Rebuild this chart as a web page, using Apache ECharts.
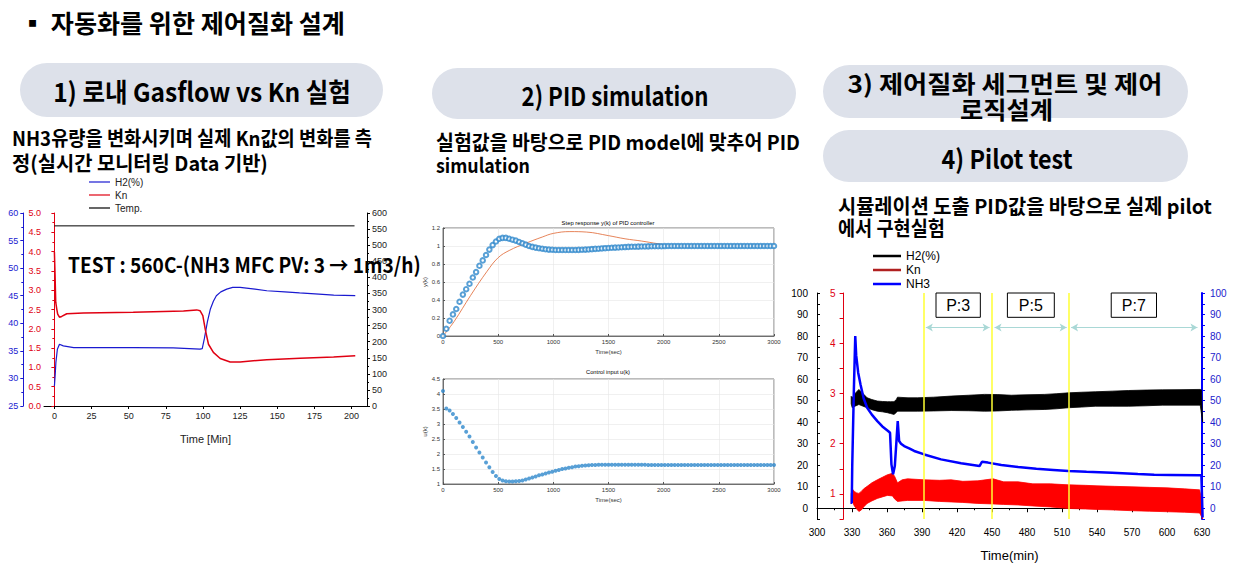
<!DOCTYPE html>
<html>
<head>
<meta charset="utf-8">
<script src="https://cdn.jsdelivr.net/npm/echarts@6/dist/echarts.min.js"></script>
<style>html,body{margin:0;padding:0;background:#fff}#c{width:1243px;height:572px}</style>
</head>
<body>
<div id="c"></div>
<script>
// ---------- 1) Gasflow vs Kn (left chart) ----------
const gasTimeTicks = [0, 25, 50, 75, 100, 125, 150, 175, 200];
const gasH2 = [[0,28.6],[0.5,30.5],[1,32.9],[2,35.3],[3.4,36.2],[6,35.9],[13,35.6],[30,35.6],[53,35.6],[80,35.55],[98,35.3],[99.5,35.4],[101,37.3],[103,40.3],[105,42.6],[107,44],[109,45],[112,45.7],[116,46.2],[120,46.5],[125,46.5],[135,46.2],[143,45.9],[155,45.7],[165,45.5],[178,45.3],[188,45.1],[202.5,45.0]];
const gasKn = [[0,3.99],[0.45,3.38],[0.9,2.69],[1.6,2.51],[2.2,2.38],[3.4,2.30],[4.9,2.32],[8.3,2.39],[19.5,2.41],[53,2.43],[86.9,2.46],[95.8,2.49],[98,2.47],[99.9,2.34],[101.5,1.99],[103.7,1.60],[107,1.39],[111.6,1.23],[118.3,1.14],[125,1.14],[143,1.20],[165.4,1.24],[187.9,1.27],[202.5,1.30]];
const gasTemp = [[0,560],[202,560]];

// ---------- 2) PID simulation (middle charts), sampled every 30 s ----------
const simStep = 30;
const stepY = [0.00,0.08,0.17,0.24,0.30,0.38,0.46,0.52,0.58,0.65,
  0.71,0.78,0.84,0.90,0.96,1.01,1.05,1.08,1.09,1.09,
  1.08,1.07,1.06,1.045,1.03,1.015,1.00,0.99,0.982,0.975,
  0.969,0.964,0.96,0.958,0.956,0.955,0.955,0.955,0.955,0.955,
  0.956,0.957,0.958,0.96,0.962,0.965,0.968,0.97,0.973,0.976,
  0.978,0.98,0.982,0.984,0.986,0.988,0.99,0.991,0.992,0.993,
  0.994,0.995,0.996,0.997,0.997,0.998,0.998,0.999,1,1,
  1,1,1,1,1,1,1,1,1,1,
  1,1,1,1,1,1,1,1,1,1,
  1,1,1,1,1,1,1,1,1,1,1];
const stepRef = [[0,0],[100,0.16],[250,0.45],[400,0.72],[500,0.87],[600,0.95],[750,1.03],[900,1.10],[1000,1.14],[1150,1.16],[1300,1.155],[1500,1.115],[1650,1.08],[1800,1.055],[1950,1.025],[2100,1.0],[2400,1.0],[3000,1.0]];
const ctrlU = [4.10,3.52,3.45,3.33,3.20,3.05,2.90,2.74,2.58,2.40,
  2.22,2.05,1.88,1.72,1.56,1.40,1.27,1.17,1.12,1.09,
  1.08,1.08,1.09,1.10,1.12,1.15,1.18,1.22,1.25,1.29,
  1.32,1.35,1.38,1.41,1.44,1.47,1.50,1.52,1.54,1.56,
  1.58,1.595,1.61,1.62,1.625,1.63,1.635,1.64,1.64,1.64,
  1.64,1.64,1.64,1.64,1.64,1.64,1.64,1.64,1.64,1.64,
  1.64,1.64,1.635,1.635,1.635,1.63,1.63,1.63,1.63,1.63,
  1.63,1.63,1.63,1.63,1.63,1.63,1.63,1.63,1.63,1.63,
  1.63,1.63,1.63,1.63,1.63,1.63,1.63,1.63,1.63,1.63,
  1.63,1.63,1.63,1.63,1.63,1.63,1.63,1.63,1.63,1.63,1.63];

// ---------- 4) Pilot test (right chart) ----------
const pilotLeftLabels = [0,10,20,30,40,50,60,70,80,90,100];
const pilotKnLabels = [1,2,3,4,5];
const pilotH2Time = [329.3,330.2,333,335.9,339,343,347,351.7,356,360.3,363,366,368,369,372,378,386,400,415,430,443.6,455,466.6,480,495.3,505,515.5,527,538.5,553,567.2,582,596,612,628.5,629.5,630.5];
const pilotH2Lo  = [48.5,46.7,47.5,48.2,47.5,46.7,45.8,45.1,44.8,44.4,44.0,43.6,44.5,45.1,45.1,45.1,45.1,45.2,45.4,45.3,45.1,45.2,45.5,45.7,45.9,46.2,46.7,47.0,47.4,47.4,47.4,47.6,47.9,47.9,47.9,44.0,40.0];
const pilotH2Hi  = [52.0,51.3,53.5,55.2,53.5,51.3,50.5,49.8,49.6,49.5,49.5,49.5,50.5,51.6,51.5,51.3,51.3,51.6,52.1,52.5,52.9,52.8,52.5,52.7,52.9,53.2,53.6,53.9,54.1,54.4,54.7,54.9,55.0,55.1,55.2,55.0,41.0];
const pilotKnTime = [329.3,330.2,332,334,335.9,338,340,343,347,351.7,356,360.3,364.7,366.5,369,373,377.6,391.9,405,414.9,425,437.9,450.9,460,472.4,485,500,515.5,530,540,555,570,585,600,615,628,629.5,630.5];
const pilotKnLo = [0.80,0.85,0.76,0.70,0.65,0.68,0.74,0.81,0.86,0.91,0.94,0.97,0.96,0.90,0.85,0.86,0.87,0.87,0.85,0.84,0.83,0.81,0.80,0.79,0.78,0.76,0.74,0.71,0.70,0.69,0.68,0.665,0.655,0.645,0.635,0.62,0.55,0.50];
const pilotKnHi = [1.00,1.10,1.05,1.02,1.01,1.05,1.10,1.15,1.22,1.28,1.33,1.38,1.41,1.35,1.22,1.28,1.30,1.28,1.27,1.28,1.25,1.26,1.30,1.24,1.24,1.20,1.20,1.18,1.17,1.16,1.15,1.14,1.13,1.12,1.10,1.08,0.90,0.50];
const pilotNH3 = [[328.8,2.5],[329.8,2.5],[330.2,19.5],[331.6,55],[332.8,80],[333.6,71],[335.3,63],[337.3,57.5],[340,51],[343,46.7],[347,43.5],[351.7,40.5],[356,38],[360.9,35.9],[362.6,35.1],[363.8,20.4],[365.2,15.8],[366.7,19.6],[368.1,31.2],[369.2,40.5],[370.4,31.2],[372,30],[374.7,28.9],[379,27.8],[383.3,26.6],[391.9,25],[406.3,22.7],[423.5,20.9],[439.3,19.6],[441.4,21.6],[446.5,21.2],[458,20.1],[472.4,19.2],[488,18.3],[502.6,17.8],[515.5,17.3],[531,16.9],[552.9,16.5],[575,15.9],[589,15.6],[603,15.5],[627.6,15.3],[629.5,15.3],[630.5,-4.3]];
const pilotPhaseLines = [391.4, 450, 516];
const pilotPhaseBoxes = [["P:3",402,440],["P:5",463.2,503.4],["P:7",552.2,591]];
const pilotPhaseArrows = [[393.3,447.9],[452.2,514],[517.8,626.1]];

// ---------- texts ----------
const KR = "'Noto Sans CJK KR'";
const LAT = "'Liberation Sans', Arial, sans-serif";
const mctx = document.createElement('canvas').getContext('2d');
function txt(text, x, y, size, target, align, family, weight) {
  mctx.font = weight + ' ' + size + 'px ' + family;
  const w = mctx.measureText(text).width;
  const sx = w > 0 ? target / w : 1;
  return {type:'text', x:x, y:y, scaleX:sx, z:100,
    style:{text:text, fontSize:size, fontFamily:family, fontWeight:weight, fill:'#000', align:align, verticalAlign:'middle'}};
}
function pill(x, y, w, h) {
  return {type:'rect', z:90, shape:{x:x, y:y, width:w, height:h, r:h/2}, style:{fill:'#dde1ea'}};
}
const graphics = [
  txt('▪ 자동화를 위한 제어질화 설계', 20, 22, 25, 325, 'left', KR, 'bold'),
  pill(20,63,363,54), pill(432,68,364,51), pill(823,65,365,53), pill(823,130,365,52),
  txt('1) 로내 Gasflow vs Kn 실험', 202, 91, 26, 298, 'center', KR, 'bold'),
  txt('2) PID simulation', 615, 95, 26, 187, 'center', KR, 'bold'),
  txt('3) 제어질화 세그먼트 및 제어', 1005, 83, 24, 315, 'center', KR, 'bold'),
  txt('로직설계', 1006.5, 108, 24, 93, 'center', KR, 'bold'),
  txt('4) Pilot test', 1007, 157, 26, 131, 'center', KR, 'bold'),
  txt('NH3유량을 변화시키며 실제 Kn값의 변화를 측', 12, 138, 20, 360, 'left', KR, 'bold'),
  txt('정(실시간 모니터링 Data 기반)', 12, 162, 20, 256, 'left', KR, 'bold'),
  txt('실험값을 바탕으로 PID model에 맞추어 PID', 436, 141, 20, 364, 'left', KR, 'bold'),
  txt('simulation', 436, 164, 20, 94, 'left', KR, 'bold'),
  txt('시뮬레이션 도출 PID값을 바탕으로 실제 pilot', 838, 205, 20, 374, 'left', KR, 'bold'),
  txt('에서 구현실험', 838, 228, 20, 107, 'left', KR, 'bold'),
  txt('TEST : 560C-(NH3 MFC PV: 3 → 1m3/h)', 68, 264, 21, 353, 'left', KR, 'bold'),
  txt('Step response y(k) of PID controller', 608, 223, 6, 93, 'center', LAT, 'normal'),
  txt('Control input u(k)', 608, 372, 6, 44, 'center', LAT, 'normal')
];

// ---------- helpers for axes ----------
function plain(v) { return String(v); }
function simX(grid) {
  return {gridIndex:grid, type:'value', min:0, max:3000, interval:500,
    axisLine:{lineStyle:{color:'#555', width:0.8}}, axisTick:{inside:true, length:2, lineStyle:{color:'#555'}},
    axisLabel:{fontSize:6, color:'#333', margin:3, fontFamily:LAT, formatter:plain},
    splitLine:{show:true, lineStyle:{color:'#e6e6e6', width:0.6}},
    name:'Time(sec)', nameLocation:'middle', nameGap:13, nameTextStyle:{fontSize:6, color:'#333', fontFamily:LAT}};
}
function simY(grid, min, max, interval, name) {
  return {gridIndex:grid, type:'value', min:min, max:max, interval:interval,
    axisLine:{show:true, lineStyle:{color:'#555', width:0.8}}, axisTick:{show:true, inside:true, length:2, lineStyle:{color:'#555'}},
    axisLabel:{fontSize:6, color:'#333', margin:3, fontFamily:LAT, formatter:plain},
    splitLine:{show:true, lineStyle:{color:'#e6e6e6', width:0.6}},
    name:name, nameLocation:'middle', nameGap:13, nameTextStyle:{fontSize:6, color:'#333', fontFamily:LAT}};
}
// noisy signal drawn as its min/max envelope through the axis scales
function bandSeries(name, yIdx, times, lo, hi, color) {
  return {name:name, type:'custom', coordinateSystem:'cartesian2d', xAxisIndex:3, yAxisIndex:yIdx,
    color:color, itemStyle:{color:color}, silent:true,
    data: times.map(function(t,i){ return [t, lo[i], hi[i]]; }),
    encode:{x:0, y:[1,2]},
    renderItem: function(params, api) {
      if (params.dataIndex !== 0) return null;
      const pts = [];
      for (let i = 0; i < times.length; i++) pts.push(api.coord([times[i], lo[i]]));
      for (let i = times.length - 1; i >= 0; i--) pts.push(api.coord([times[i], hi[i]]));
      return {type:'polygon', shape:{points:pts}, style:{fill:color, stroke:color, lineWidth:0.8}};
    }};
}
const RED = '#e00012', BLUE = '#1a1ad0', PBLUE = '#0000ff', SIMBLUE = '#2f88cc';

const option = {
  animation:false,
  backgroundColor:'#fff',
  textStyle:{fontFamily:LAT},
  graphic:graphics,
  grid:[
    {left:44, right:876, top:213, bottom:166},
    {left:443, right:469, top:228, bottom:236, show:true, borderColor:'#555', borderWidth:0.8},
    {left:443, right:469, top:379, bottom:88, show:true, borderColor:'#555', borderWidth:0.8},
    {left:817, right:41, top:293, bottom:53}
  ],
  legend:[
    {data:['H2(%)','Kn','Temp.'], left:89, top:177, orient:'vertical', icon:'rect', itemWidth:21, itemHeight:1.2, itemGap:3, padding:0, selectedMode:false, textStyle:{fontSize:10, color:'#222', fontFamily:LAT}},
    {data:[{name:'H2(%) pilot'},{name:'Kn pilot', itemStyle:{color:'#b02020'}},{name:'NH3'}], formatter:function(n){return n.replace(' pilot','');}, left:873, top:250, orient:'vertical', icon:'rect', itemWidth:28, itemHeight:2.5, itemGap:2, padding:0, selectedMode:false, textStyle:{fontSize:12, color:'#000', fontFamily:LAT}}
  ],
  xAxis:[
    {gridIndex:0, type:'value', min:-7, max:210.4,
      axisLine:{lineStyle:{color:'#000'}}, axisTick:{customValues:gasTimeTicks, length:3, lineStyle:{color:'#000'}},
      axisLabel:{customValues:gasTimeTicks, fontSize:9, color:'#222', margin:5},
      splitLine:{show:false}, name:'Time [Min]', nameLocation:'middle', nameGap:27, nameTextStyle:{fontSize:11, color:'#222'}},
    simX(1), simX(2),
    {gridIndex:3, type:'value', min:300, max:630, interval:30,
      axisLine:{lineStyle:{color:'#000'}}, axisTick:{length:4, lineStyle:{color:'#000'}},
      minorTick:{show:true, splitNumber:2, length:2, lineStyle:{color:'#000'}},
      axisLabel:{fontSize:10, color:'#000', margin:8}, splitLine:{show:false},
      name:'Time(min)', nameLocation:'middle', nameGap:30, nameTextStyle:{fontSize:13, color:'#000'}}
  ],
  yAxis:[
    {gridIndex:0, type:'value', min:0, max:5, interval:0.5, position:'left',
      axisLine:{show:true, lineStyle:{color:RED}}, axisTick:{show:true, length:3, lineStyle:{color:RED}},
      minorTick:{show:true, splitNumber:2, length:2, lineStyle:{color:RED}},
      axisLabel:{fontSize:9, color:RED, margin:3, formatter:function(v){return v.toFixed(1);}}, splitLine:{show:false}},
    {gridIndex:0, type:'value', min:25, max:60, interval:5, position:'left', offset:20.7,
      axisLine:{show:true, lineStyle:{color:BLUE}}, axisTick:{show:true, length:3, lineStyle:{color:BLUE}},
      minorTick:{show:true, splitNumber:2, length:2, lineStyle:{color:BLUE}},
      axisLabel:{fontSize:9, color:BLUE, margin:5}, splitLine:{show:false}},
    {gridIndex:0, type:'value', min:0, max:600, interval:50, position:'right',
      axisLine:{show:true, lineStyle:{color:'#000'}}, axisTick:{show:true, length:3, lineStyle:{color:'#000'}},
      minorTick:{show:true, splitNumber:2, length:2, lineStyle:{color:'#000'}},
      axisLabel:{fontSize:9, color:'#222', margin:5}, splitLine:{show:false}},
    simY(1, 0, 1.2, 0.2, 'y(k)'),
    simY(2, 1, 4.5, 0.5, 'u(k)'),
    {gridIndex:3, type:'value', min:-5, max:100, interval:5, position:'left',
      axisLine:{show:true, lineStyle:{color:'#000'}}, axisTick:{show:true, inside:true, length:3, lineStyle:{color:'#000'}},
      axisLabel:{customValues:pilotLeftLabels, fontSize:10, color:'#000', margin:9}, splitLine:{show:false}},
    {gridIndex:3, type:'value', min:0.5, max:5, interval:0.5, position:'left', offset:-26.6,
      axisLine:{show:true, lineStyle:{color:RED}}, axisTick:{show:true, length:4, lineStyle:{color:RED}},
      axisLabel:{customValues:pilotKnLabels, fontSize:10, color:RED, margin:8}, splitLine:{show:false}},
    {gridIndex:3, type:'value', min:-5, max:100, interval:5, position:'right',
      axisLine:{show:true, lineStyle:{color:PBLUE, width:2}}, axisTick:{show:true, length:3, lineStyle:{color:PBLUE}},
      axisLabel:{customValues:pilotLeftLabels, fontSize:10, color:'#2222cc', margin:8}, splitLine:{show:false}}
  ],
  series:[
    {name:'H2(%)', type:'line', xAxisIndex:0, yAxisIndex:1, data:gasH2, showSymbol:false, color:BLUE, lineStyle:{color:BLUE, width:1.2}},
    {name:'Kn', type:'line', xAxisIndex:0, yAxisIndex:0, data:gasKn, showSymbol:false, color:RED, lineStyle:{color:RED, width:1.5}},
    {name:'Temp.', type:'line', xAxisIndex:0, yAxisIndex:2, data:gasTemp, showSymbol:false, color:'#000', lineStyle:{color:'#000', width:1}},

    {name:'ref', type:'line', xAxisIndex:1, yAxisIndex:3, data:stepRef, smooth:0.4, showSymbol:false, color:'#e06530', lineStyle:{color:'#e06530', width:0.8}, z:1},
    {name:'y(k)', type:'scatter', xAxisIndex:1, yAxisIndex:3, data:stepY.map(function(v,i){return [i*simStep, v];}), symbol:'emptyCircle', symbolSize:4.5, itemStyle:{color:SIMBLUE, borderColor:SIMBLUE, borderWidth:0.9}, z:2},
    {name:'u(k)', type:'scatter', xAxisIndex:2, yAxisIndex:4, data:ctrlU.map(function(v,i){return [i*simStep, v];}), symbol:'circle', symbolSize:4, itemStyle:{color:SIMBLUE}, z:2},

    bandSeries('H2(%) pilot', 5, pilotH2Time, pilotH2Lo, pilotH2Hi, '#000000'),
    bandSeries('Kn pilot', 6, pilotKnTime, pilotKnLo, pilotKnHi, '#ff0000'),
    {name:'NH3', type:'line', xAxisIndex:3, yAxisIndex:7, data:pilotNH3, showSymbol:false, clip:false, color:PBLUE, lineStyle:{color:PBLUE, width:2.5},
      markLine:{silent:true, symbol:'none', label:{show:false}, animation:false,
        data: pilotPhaseLines.map(function(x){return [{coord:[x,-5], symbol:'none', lineStyle:{color:'#ffff33', width:1.5, type:'solid'}}, {coord:[x,100], symbol:'none'}];})
          .concat(pilotPhaseArrows.map(function(a){return [{coord:[a[0],84], symbol:'arrow', symbolSize:[6,7], lineStyle:{color:'#a9d8d6', width:1, type:'solid'}}, {coord:[a[1],84], symbol:'arrow', symbolSize:[6,7]}];}))},
      markArea:{silent:true, itemStyle:{color:'#fff', borderColor:'#000', borderWidth:1},
        label:{show:true, position:'inside', fontSize:16, color:'#000', fontFamily:LAT},
        data: pilotPhaseBoxes.map(function(b){return [{name:b[0], coord:[b[1],102.3]}, {coord:[b[2],88.7]}];})}}
  ]
};
const chart = echarts.init(document.getElementById('c'), null, {renderer:'svg', width:1243, height:572});
chart.setOption(option);
</script>
</body>
</html>
